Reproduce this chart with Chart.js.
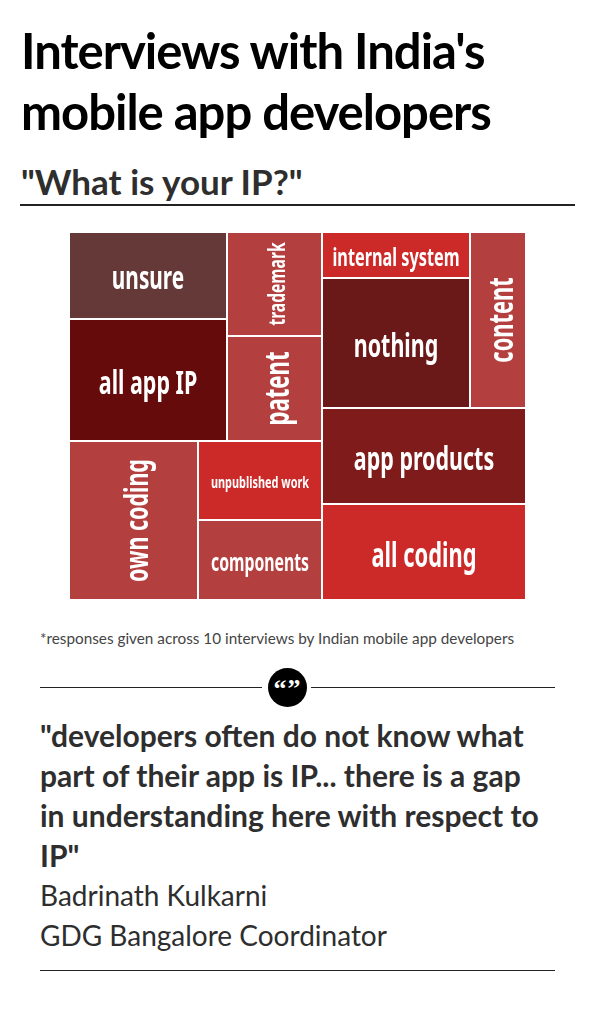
<!DOCTYPE html>
<html><head><meta charset="utf-8">
<script src="https://cdn.jsdelivr.net/npm/chart.js@4"></script>
<style>
html,body{margin:0;padding:0;background:#fff;width:595px;height:1031px;overflow:hidden;color:#2e2e2e}
.t{position:absolute;white-space:nowrap}
#title{left:21px;top:20px;font:700 49px/61px Lato,sans-serif;color:#000;letter-spacing:-1px}
#sub{left:21px;top:159px;font:700 35px/44px Lato,sans-serif}
.rule{position:absolute;background:#222;height:1px}
#note{left:40px;top:628px;font:15.3px/20px Lato,sans-serif;color:#444}
#qm{position:absolute;left:268px;top:668px;width:39px;height:39px;border-radius:50%;background:#000;color:#fff;font:700 26px/42px "Liberation Serif",serif;text-align:center;letter-spacing:1px}
#quote{left:40px;top:715px;font:700 30px/40px Lato,sans-serif}
.who{left:40px;font:28px/40px Lato,sans-serif}
canvas{position:absolute;left:0;top:0}
</style></head><body>
<div class="t" id="title">Interviews with India's<br>mobile app developers</div>
<div class="t" id="sub">"What is your IP?"</div>
<div class="rule" style="left:20px;top:204px;width:555px;height:2px"></div>
<div style="position:absolute;left:0;top:0;width:595px;height:620px"><canvas id="c" width="595" height="620"></canvas></div>
<div class="t" id="note">*responses given across 10 interviews by Indian mobile app developers</div>
<div class="rule" style="left:40px;top:687px;width:222px"></div>
<div class="rule" style="left:311px;top:687px;width:244px"></div>
<div id="qm">“”</div>
<div class="t" id="quote">"developers often do not know what<br>part of their app is IP... there is a gap<br>in understanding here with respect to<br>IP"</div>
<div class="t who" style="top:875px">Badrinath Kulkarni</div>
<div class="t who" style="top:915px">GDG Bangalore Coordinator</div>
<div class="rule" style="left:40px;top:970px;width:515px"></div>
<script>
const categories=["unsure","all app IP","trademark","patent","own coding","unpublished work","components","internal system","nothing","content","app products","all coding"];
const responses=[4.2,5.9,3,3,6.3,3,3,2.1,5.9,3,6,6];
const cellColors=["#663939","#660b0b","#b33f3f","#b33f3f","#b33f3f","#cc2929","#b33f3f","#cc2929","#6b1818","#b33f3f","#801b1b","#cc2929"];
const labelSizes=[32,33,24,34,33,16.8,24.3,25,33,33.6,33,33.6];
const labelVertical=[0,0,1,1,1,0,0,0,0,1,0,0];
// nesting of the treemap; each level alternates between columns and rows
const nesting=[[[[0,1],[2,3]],[4,[5,6]]],[[[7,8],9],10,11]];

const total=n=>typeof n==="number"?responses[n]:n.reduce((s,c)=>s+total(c),0);
function place(node,box,horizontal,out){
  if(typeof node==="number"){out[node]=box;return out;}
  const sum=total(node);let pos=horizontal?box.x0:box.y0;
  for(const child of node){
    const size=(horizontal?box.x1-box.x0:box.y1-box.y0)*total(child)/sum;
    const b=horizontal?{x0:pos,x1:pos+size,y0:box.y0,y1:box.y1}:{x0:box.x0,x1:box.x1,y0:pos,y1:pos+size};
    place(child,b,!horizontal,out);pos+=size;
  }
  return out;
}
class TreemapController extends Chart.DatasetController{
  update(mode){
    const meta=this._cachedMeta,xs=meta.xScale,ys=meta.yScale;
    const boxes=place(nesting,{x0:0,x1:1,y0:0,y1:1},true,[]);
    meta.data.forEach((el,i)=>{
      const b=boxes[i],l=Math.round(xs.getPixelForValue(b.x0)),r=Math.round(xs.getPixelForValue(b.x1)),t=Math.round(ys.getPixelForValue(b.y0)),bt=Math.round(ys.getPixelForValue(b.y1));
      this.updateElement(el,i,{x:(l+r)/2,y:t,base:bt,width:r-l,height:bt-t,horizontal:false,borderSkipped:{},enableBorderRadius:false,inflateAmount:0,
        options:{backgroundColor:cellColors[i],borderColor:"#fff",borderWidth:1,borderRadius:0}},mode);
    });
  }
  parseObjectData(){return [];}
  draw(){this._cachedMeta.data.forEach(e=>e.draw(this.chart.ctx));}
}
TreemapController.id="treemap";
TreemapController.defaults={dataElementType:"bar"};
Chart.register(TreemapController,Chart.BarElement,Chart.LinearScale);
const labelPlugin={id:"cellLabels",afterDatasetsDraw(chart){
  const ctx=chart.ctx;
  chart.getDatasetMeta(0).data.forEach((el,i)=>{
    ctx.save();ctx.translate(el.x,(el.y+el.base)/2);
    if(labelVertical[i])ctx.rotate(-Math.PI/2);
    ctx.scale(.65,1);
    ctx.fillStyle="#fff";ctx.textAlign="center";ctx.textBaseline="middle";
    ctx.font="700 "+labelSizes[i]+'px "Noto Sans",sans-serif';
    ctx.fillText(categories[i],0,labelSizes[i]*.15);ctx.restore();
  });
}};
new Chart(document.getElementById("c"),{
  type:"treemap",
  data:{labels:categories,datasets:[{data:responses}]},
  plugins:[labelPlugin],
  options:{responsive:false,animation:false,events:[],
    layout:{padding:{left:69,right:69,top:232,bottom:20}},
    plugins:{legend:{display:false},tooltip:{enabled:false}},
    scales:{x:{type:"linear",min:0,max:1,display:false},y:{type:"linear",min:0,max:1,reverse:true,display:false}}}
});
</script>
</body></html>
